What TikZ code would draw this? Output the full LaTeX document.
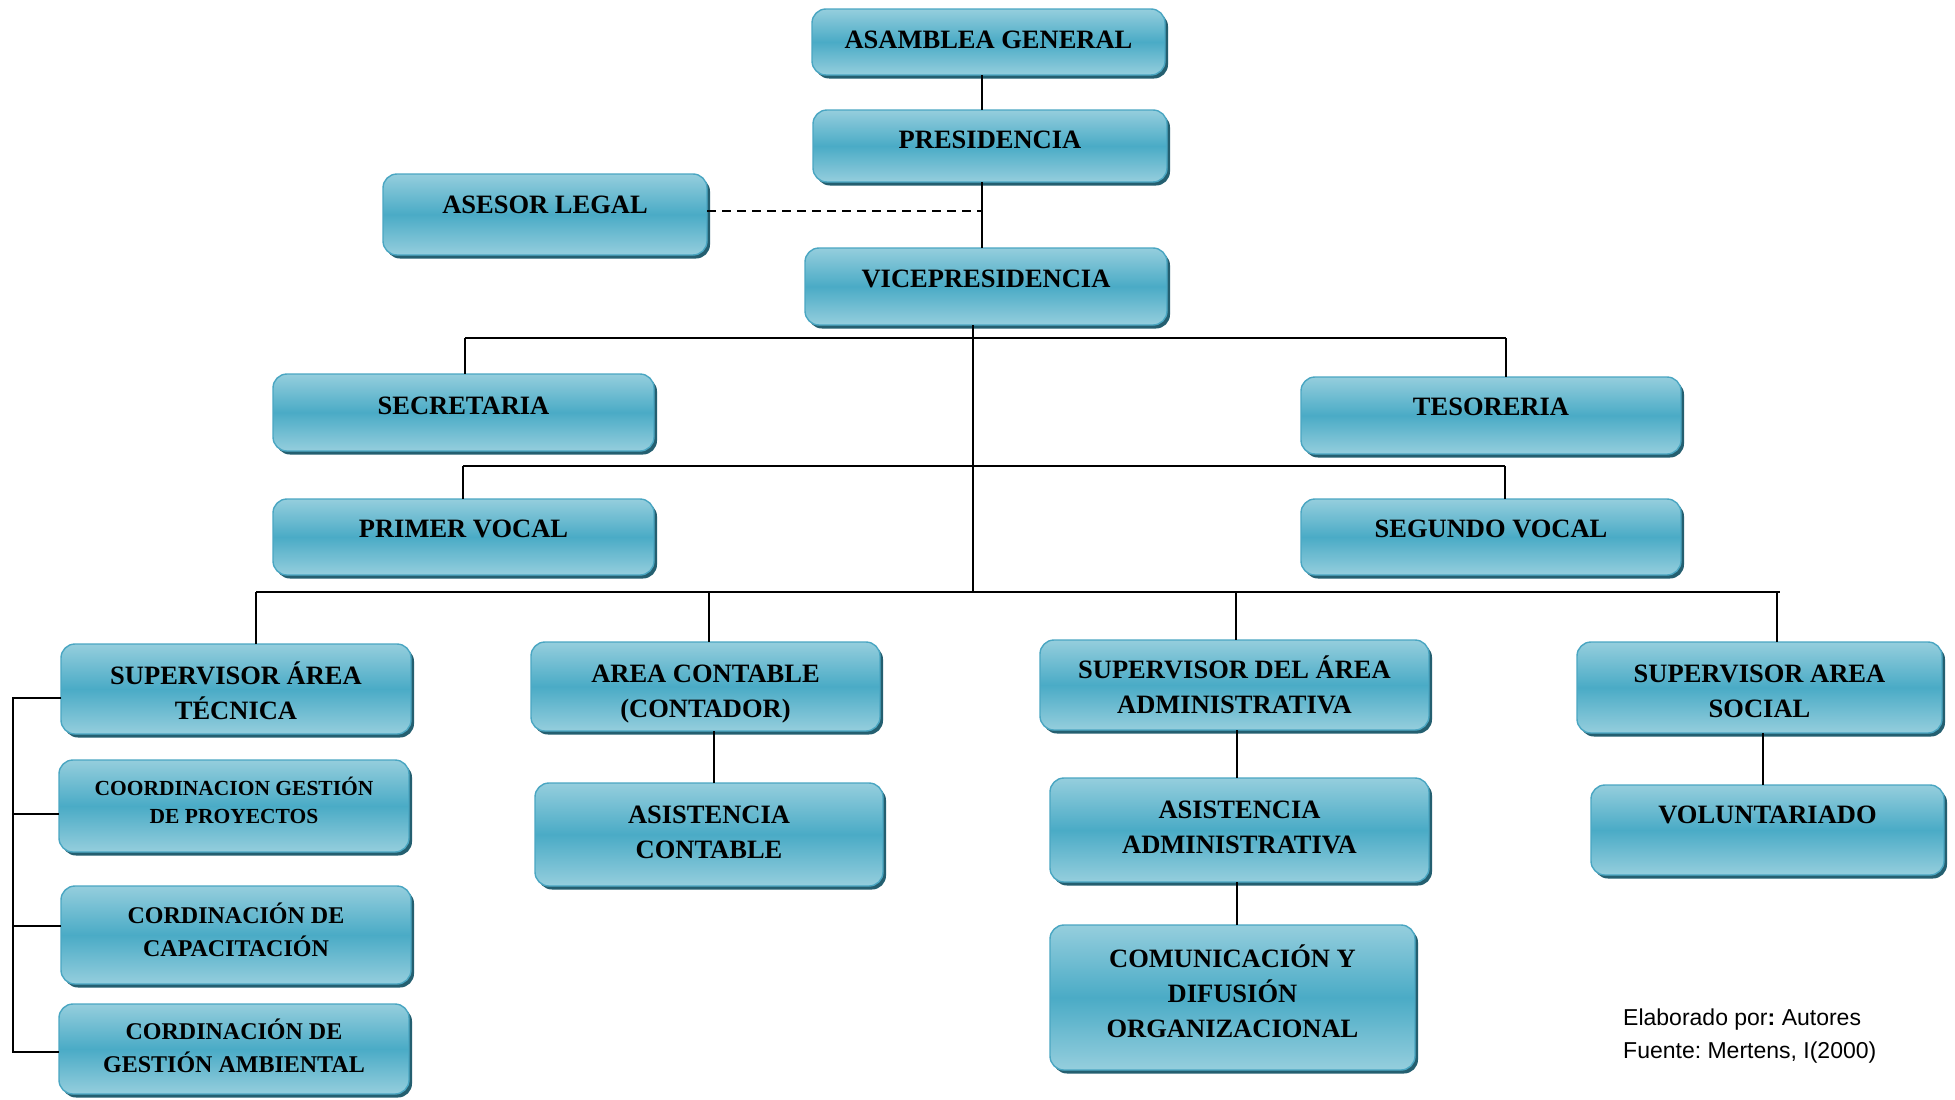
\documentclass[tikz,border=0pt]{standalone}
\usepackage{fontspec}
\setmainfont{Liberation Serif}
\newfontfamily\arialf{Liberation Sans}
\usetikzlibrary{shadows}
\frenchspacing
\definecolor{lightb}{HTML}{95CEDD}
\definecolor{midb}{HTML}{4AABC6}
\definecolor{edgeb}{HTML}{4AA6C2}
\definecolor{shadowc}{HTML}{245F70}
\tikzset{
  obox/.style={rectangle, rounded corners=14pt, draw=edgeb, line width=1.4pt,
    top color=lightb, bottom color=lightb, middle color=midb,
    drop shadow={shadow xshift=3pt, shadow yshift=-3.5pt, fill=shadowc, opacity=1},
    inner sep=0pt, outer sep=0pt},
  lbl/.style={anchor=base, inner sep=0pt, font=\bfseries\fontsize{26.5}{35}\selectfont},
  smalllbl/.style={font=\bfseries\fontsize{21.5}{28}\selectfont},
  midlbl/.style={font=\bfseries\fontsize{24}{33}\selectfont},
  conn/.style={draw=black, line width=1.6pt},
  foot/.style={anchor=base west, inner sep=0pt, font=\arialf\fontsize{23}{28}\selectfont\frenchspacing}
}
\newcommand\orgbox[8][]{%
  \node[obox, minimum width={#5-#3}, minimum height={#6-#4}] (#2) at ({(#3+#5)/2},{(#4+#6)/2}) {};
  \node[lbl,#1] (#2-t) at ({(#3+#5)/2},#7) {\setlength\tabcolsep{0pt}\begin{tabular}[t]{c}#8\end{tabular}};
}
\begin{document}
\begin{tikzpicture}[x=1pt,y=-1pt]
\useasboundingbox[fill=white] (0,0) rectangle (1955,1100);
% boxes
\orgbox{ag}{812}{9}{1165}{75}{48}{ASAMBLEA GENERAL}
\orgbox{pr}{813}{110}{1167}{182}{148}{PRESIDENCIA}
\orgbox{vp}{805}{248}{1167}{325}{287}{VICEPRESIDENCIA}
\orgbox{al}{383}{174}{707}{255}{213}{ASESOR LEGAL}
\orgbox{sec}{273}{374}{654}{451}{414}{SECRETARIA}
\orgbox{tes}{1301}{377}{1681}{454}{415}{TESORERIA}
\orgbox{pv}{273}{499}{654}{575}{537}{PRIMER VOCAL}
\orgbox{sv}{1301}{499}{1681}{575}{537}{SEGUNDO VOCAL}
\orgbox{st}{61}{644}{411}{734}{684}{SUPERVISOR ÁREA\\TÉCNICA}
\orgbox[smalllbl]{cp}{59}{760}{409}{852}{795}{COORDINACION GESTIÓN\\DE PROYECTOS}
\orgbox[midlbl]{cc}{61}{886}{411}{984}{923}{CORDINACIÓN DE\\CAPACITACIÓN}
\orgbox[midlbl]{cga}{59}{1004}{409}{1094}{1039}{CORDINACIÓN DE\\GESTIÓN AMBIENTAL}
\orgbox{ac}{531}{642}{880}{731}{682}{AREA CONTABLE\\(CONTADOR)}
\orgbox{asc}{535}{783}{883}{886}{823}{ASISTENCIA\\CONTABLE}
\orgbox{sa}{1040}{640}{1429}{730}{678}{SUPERVISOR DEL ÁREA\\ADMINISTRATIVA}
\orgbox{asa}{1050}{778}{1429}{882}{818}{ASISTENCIA\\ADMINISTRATIVA}
\orgbox{com}{1050}{925}{1415}{1070}{967}{COMUNICACIÓN Y\\DIFUSIÓN\\ORGANIZACIONAL}
\orgbox{ss}{1577}{642}{1942}{733}{682}{SUPERVISOR AREA\\SOCIAL}
\orgbox{vol}{1591}{785}{1944}{875}{823}{VOLUNTARIADO}
% helper coordinates
\coordinate (tA) at (982,0);
\coordinate (dj) at (982,211);
\coordinate (tB) at (973,0);
\coordinate (b1L) at (465,338);
\coordinate (b1R) at (1506,338);
\coordinate (b2L) at (463,466);
\coordinate (b2R) at (1505,466);
\coordinate (b3L) at (256,592);
\coordinate (b3R) at (1780,592);
\coordinate (xAC) at (709,0);
\coordinate (xSA) at (1236,0);
\coordinate (xSS) at (1777,0);
\coordinate (tC) at (714,0);
\coordinate (tD) at (1237,0);
\coordinate (tE) at (1763,0);
\coordinate (brT) at (13,698);
\coordinate (br2) at (13,814);
\coordinate (br3) at (13,926);
\coordinate (brB) at (13,1052);
% connectors
\draw[conn] (ag.south -| tA) -- (pr.north -| tA);
\draw[conn] (pr.south -| tA) -- (vp.north -| tA);
\draw[conn, dashed, dash pattern=on 9pt off 6pt] (al.east |- dj) -- (dj);
\draw[conn] (vp.south -| tB) -- (tB |- b3L);
\draw[conn] (b1L) -- (b1R);
\draw[conn] (b1L) -- (sec.north -| b1L);
\draw[conn] (b1R) -- (tes.north -| b1R);
\draw[conn] (b2L) -- (b2R);
\draw[conn] (b2L) -- (pv.north -| b2L);
\draw[conn] (b2R) -- (sv.north -| b2R);
\draw[conn] (b3L) -- (b3R);
\draw[conn] (b3L) -- (st.north -| b3L);
\draw[conn] (xAC |- b3L) -- (ac.north -| xAC);
\draw[conn] (xSA |- b3L) -- (sa.north -| xSA);
\draw[conn] (xSS |- b3L) -- (ss.north -| xSS);
\draw[conn] (ac.south -| tC) -- (asc.north -| tC);
\draw[conn] (sa.south -| tD) -- (asa.north -| tD);
\draw[conn] (asa.south -| tD) -- (com.north -| tD);
\draw[conn] (ss.south -| tE) -- (vol.north -| tE);
\draw[conn] (st.west |- brT) -- (brT) -- (brB) -- (cga.west |- brB);
\draw[conn] (br2) -- (cp.west |- br2);
\draw[conn] (br3) -- (cc.west |- br3);
% footnote
\node[foot] (f1) at (1623,1025) {Elaborado por\textbf{:} Autores};
\node[foot] (f2) at (1623,1058) {Fuente: Mertens, I(2000)};
\end{tikzpicture}
\end{document}
